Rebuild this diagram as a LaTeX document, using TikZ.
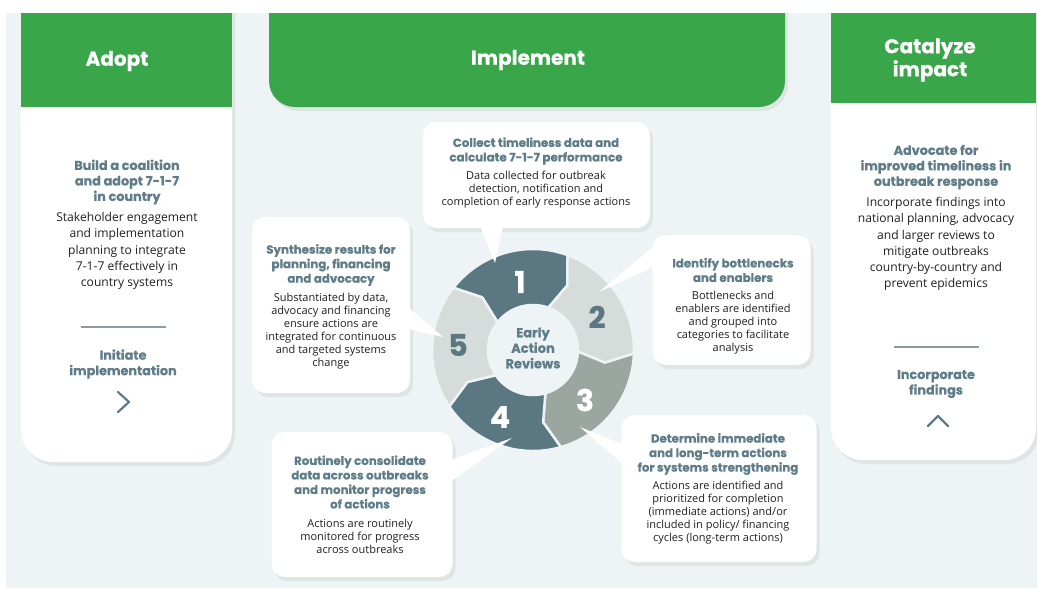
\documentclass[tikz,border=0pt]{standalone}
\usepackage{fontspec}
\setmainfont{Open Sans}
\newfontfamily\popfont{Poppins}[BoldFeatures={FakeBold=0.6}]
\usetikzlibrary{shadows,calc}

\definecolor{grn}{HTML}{3AA64A}
\definecolor{pagebg}{HTML}{EEF4F5}
\definecolor{slate}{HTML}{5F7D89}
\definecolor{segdark}{HTML}{5B7882}
\definecolor{seglight}{HTML}{D6DCDA}
\definecolor{segmid}{HTML}{9BA6A0}
\definecolor{bodytxt}{HTML}{202020}
\definecolor{rulec}{HTML}{8A9DA5}

\begin{document}
\begin{tikzpicture}[x=1pt,y=-1pt,
  softshadow/.style={drop shadow={opacity=0.13, shadow xshift=3pt, shadow yshift=-4pt}},
  card/.style={fill=white, softshadow},
  callout/.style={fill=white, rounded corners=13pt, inner sep=0pt, softshadow},
  title/.style={font=\popfont\bfseries\fontsize{20}{23}\selectfont, text=white, align=center},
  hds/.style={font=\popfont\bfseries\fontsize{12.8}{15.5}\selectfont, text=slate, align=center},
  bds/.style={font=\fontsize{12.1}{16.3}\selectfont, text=bodytxt, align=center},
  hdc/.style={font=\popfont\bfseries\fontsize{11.8}{14.5}\selectfont, text=slate, align=center},
  bdc/.style={font=\fontsize{11}{13}\selectfont, text=bodytxt, align=center},
  num/.style={font=\popfont\bfseries\fontsize{30}{30}\selectfont},
  rule/.style={draw=rulec, line width=1.5pt},
  chev/.style={draw=slate, line width=2.2pt, line cap=round, line join=round},
  tail/.style={fill=white}
]
\useasboundingbox (0,0) rectangle (1037,590);
\fill[pagebg] (6,13) rectangle (1037,588);

% side cards and the top banner, cut off at the top edge of the panel
\begin{scope}
  \clip (0,13) rectangle (1037,590);
  \path[card, rounded corners=32pt] (21,-40) rectangle (232,462);
  \fill[grn] (21,13) rectangle (232,107);
  \path[card, fill=grn, rounded corners=26pt] (269,-40) rectangle (785,107);
  \path[card, rounded corners=32pt] (831,-40) rectangle (1036,460);
  \fill[grn] (831,13) rectangle (1036,103);
\end{scope}

% titles
\node[title] (adoptt) at (117,61) {Adopt};
\node[title] (implt) at (528,60) {Implement};
\node[title] (catt) at (930,60) {Catalyze\\impact};

% Adopt column
\node[hds] (adopth) at (127,182) {Build a coalition\\and adopt 7-1-7\\in country};
\node[bds] (adoptb) at (127,251) {Stakeholder engagement\\and implementation\\planning to integrate\\7-1-7 effectively in\\country systems};
\draw[rule] (81,327) -- (166,327);
\node[hds] (initt) at (123,364) {Initiate\\implementation};
\draw[chev] (118,392) -- (129,402) -- (118,412);

% Catalyze column
\node[hds] (cath) at (936,167) {Advocate for\\improved timeliness in\\outbreak response};
\node[bds] (catb) at (936,244) {Incorporate findings into\\national planning, advocacy\\and larger reviews to\\mitigate outbreaks\\country-by-country and\\prevent epidemics};
\draw[rule] (894,347) -- (979,347);
\node[hds] (incf) at (936,384) {Incorporate\\findings};
\draw[chev] (928,426) -- (938,416) -- (948,426);

% review cycle wheel
\begin{scope}[shift={(533,350)}, x=1pt, y=1pt]
  \foreach \b/\c in {142/segdark,70/seglight,-2/segmid,-74/segdark,-146/seglight}{
    \pgfmathsetmacro\e{\b-72}
    \pgfmathsetmacro\t{\b-8}
    \pgfmathsetmacro\u{\b-80}
    \filldraw[fill=\c, draw=pagebg, line width=2.5pt, line join=round]
      (\b:101) arc[start angle=\b, end angle=\e, radius=101]
      -- (\u:73) -- (\e:45)
      arc[start angle=\e, end angle=\b, radius=45]
      -- (\t:73) -- cycle;
  }
  \fill[pagebg] (0,0) circle[radius=43];
\end{scope}
\node[hds, font=\popfont\bfseries\fontsize{13}{15.5}\selectfont] (ear) at (533,348) {Early\\Action\\Reviews};
\node[num, text=white] (n1) at (520,282) {1};
\node[num, text=segdark] (n2) at (597,317) {2};
\node[num, text=white] (n3) at (585,400) {3};
\node[num, text=white] (n4) at (500,417) {4};
\node[num, text=segdark] (n5) at (458,345) {5};

% callouts
\node[callout, minimum width=227pt, minimum height=106pt] (b1) at (536.5,175) {};
\node[callout, minimum width=158pt, minimum height=130pt] (b2) at (731.5,300) {};
\node[callout, minimum width=158pt, minimum height=176pt] (b5) at (331,305) {};
\node[callout, minimum width=181pt, minimum height=145pt] (b4) at (362,504.5) {};
\node[callout, minimum width=195pt, minimum height=147pt] (b3) at (719,488.5) {};

% pointers from the callouts to the wheel
\coordinate (p1) at (495,263);
\coordinate (p2) at (599,292);
\coordinate (p5) at (443,337);
\coordinate (p4) at (512,438);
\coordinate (p3) at (580,427);
\fill[tail] (480,226) -- (p1) -- (503,226) -- cycle;
\fill[tail] (655,245) -- (p2) -- (655,266) -- cycle;
\fill[tail] (408,307) -- (p5) -- (408,329) -- cycle;
\fill[tail] (450,460) -- (p4) -- (450,482) -- cycle;
\fill[tail] (624,445) -- (p3) -- (624,465) -- cycle;

% callout texts
\node[hdc] (b1h) at (536,151) {Collect timeliness data and\\calculate 7-1-7 performance};
\node[bdc] (b1b) at (536,190) {Data collected for outbreak\\detection, notification and\\completion of early response actions};

\node[hdc] (b2h) at (733,270) {Identify bottlenecks\\and enablers};
\node[bdc] (b2b) at (733,323) {Bottlenecks and\\enablers are identified\\and grouped into\\categories to facilitate\\analysis};

\node[hdc] (b5h) at (331,265) {Synthesize results for\\planning, financing\\and advocacy};
\node[bdc] (b5b) at (331,331) {Substantiated by data,\\advocacy and financing\\ensure actions are\\integrated for continuous\\and targeted systems\\change};

\node[hdc] (b4h) at (360,482) {Routinely consolidate\\data across outbreaks\\and monitor progress\\of actions};
\node[bdc] (b4b) at (360,536) {Actions are routinely\\monitored for progress\\across outbreaks};

\node[hdc] (b3h) at (718,454) {Determine immediate\\and long-term actions\\for systems strengthening};
\node[bdc] (b3b) at (718,513) {Actions are identified and\\prioritized for completion\\(immediate actions) and/or\\included in policy/ financing\\cycles (long-term actions)};
\end{tikzpicture}
\end{document}
